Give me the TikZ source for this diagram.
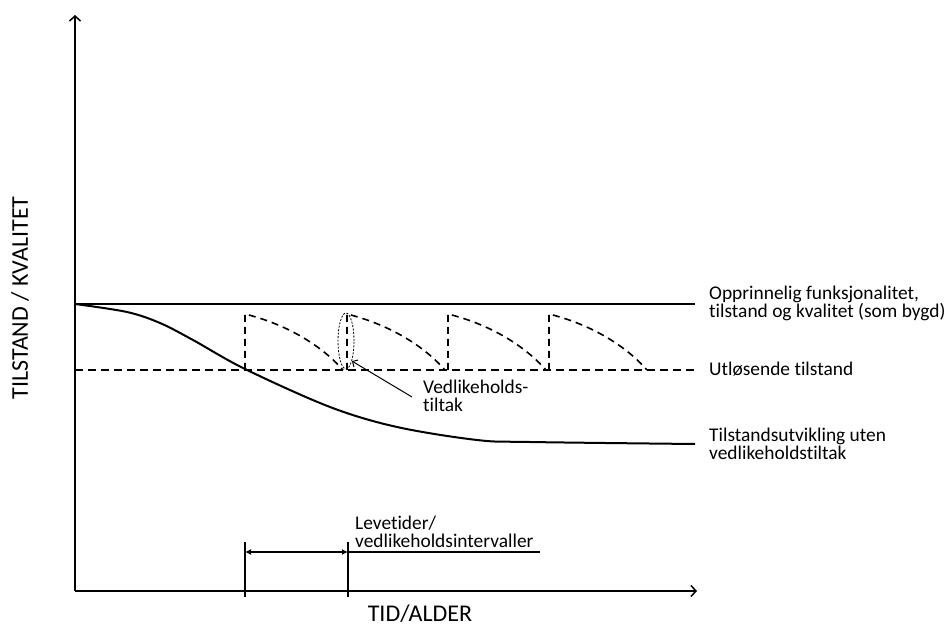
\documentclass[tikz,border=0pt]{standalone}
\usepackage{fontspec}
\setmainfont{Carlito}[Ligatures={NoCommon}]
\usetikzlibrary{arrows.meta,shapes.geometric}
\begin{document}
\begin{tikzpicture}[x=1pt,y=-1pt,
  axis/.style={line width=1.6pt,-{Straight Barb[length=5pt,width=11pt,line width=1.5pt]}},
  level/.style={line width=1.8pt},
  trigger/.style={line width=1.6pt,dash pattern=on 8pt off 5pt},
  tooth/.style={line width=1.6pt,dash pattern=on 7pt off 5pt},
  curve/.style={line width=2pt},
  tick/.style={line width=1.5pt},
  lbl/.style={inner sep=0pt,anchor=base west,align=left,font=\fontsize{19.4}{17.5}\selectfont},
  axlbl/.style={inner sep=0pt,font=\fontsize{24}{28}\selectfont},
  ring/.style={ellipse,draw,line width=0.8pt,dash pattern=on 2pt off 1.5pt,minimum width=16pt,minimum height=56pt,inner sep=0pt}
]
\useasboundingbox (0,0) rectangle (951,628);

% axes
\coordinate (origin) at (75,591);
\coordinate (ytop) at (75,15);
\coordinate (xend) at (697,591);
\draw[axis] (origin) -- (ytop);
\draw[axis] (origin) -- (xend);

% original level and triggering level
\coordinate (topA) at (75,304);
\coordinate (topB) at (695,304);
\coordinate (trigA) at (75,370);
\coordinate (trigB) at (695,370);
\draw[level] (topA) -- (topB);
\draw[trigger] (trigA) -- (trigB);

% deterioration without maintenance
\draw[curve] plot[smooth,tension=0.55] coordinates {(75,304) (127,312) (160,323) (193,340) (245,369) (330,407) (397,427) (477,440) (530,442) (695,444)};

% maintenance cycles
\foreach \x in {245,347,448,549}{
  \draw[tooth] (\x,370) -- (\x,314) .. controls (\x+40,324) and (\x+75,344) .. (\x+98,370);
}

% marked maintenance action
\node[ring] (tiltakring) at (346,341) {};
\coordinate (pilstart) at (412,397);
\draw[line width=1pt,-{Straight Barb[length=4pt,width=8pt,line width=1pt]}] (pilstart) -- (tiltakring.south east);
% multi-line labels are anchored at the baseline of their last line
\node[lbl] (tiltak) at (423,411) {Vedlikeholds-\\tiltak};

% right-hand legend texts
\node[lbl] (opprinnelig) at (709,318) {Opprinnelig funksjonalitet,\\tilstand og kvalitet (som bygd)};
\node[lbl] (utlosende) at (709,376) {Utløsende tilstand};
\node[lbl] (utvikling) at (709,459) {Tilstandsutvikling uten\\vedlikeholdstiltak};

% service life interval
\coordinate (t1top) at (245,542);
\coordinate (t1bot) at (245,597);
\coordinate (t2top) at (348,542);
\coordinate (t2bot) at (348,597);
\draw[tick] (t1top) -- (t1bot);
\draw[tick] (t2top) -- (t2bot);
\coordinate (i1) at (245,552);
\coordinate (i2) at (348,552);
\coordinate (i3) at (540,552);
\draw[line width=1.5pt,{Latex[length=6pt,width=6pt]}-{Latex[length=6pt,width=6pt]}] (i1) -- (i2);
\draw[line width=1.5pt] (i2) -- (i3);
\node[lbl] (levetid) at (355,547) {Levetider/\\vedlikeholdsintervaller};

% axis titles
\node[axlbl,anchor=base] (xtitle) at (420,621) {TID/ALDER};
\node[axlbl,rotate=90] (ytitle) at (20,298) {TILSTAND / KVALITET};
\end{tikzpicture}
\end{document}
